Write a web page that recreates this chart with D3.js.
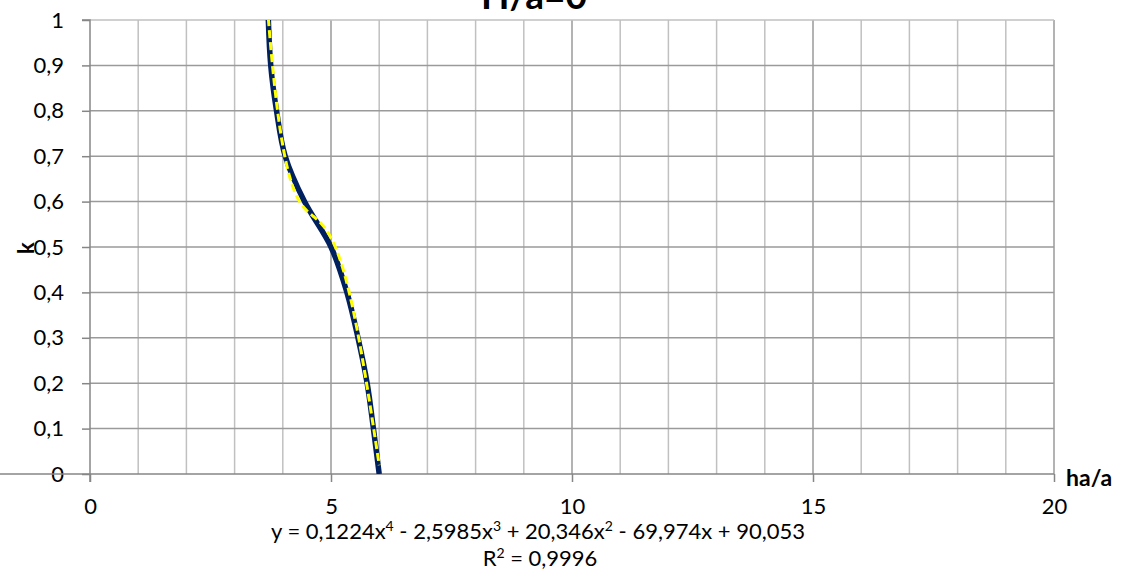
<!DOCTYPE html>
<html>
<head>
<meta charset="utf-8">
<script src="https://cdn.jsdelivr.net/npm/d3@7"></script>
<style>
  html, body { margin: 0; padding: 0; background: #fff; }
  svg { display: block; font-family: Lato, "Open Sans", sans-serif; }
</style>
</head>
<body>
<div id="chart"></div>
<script>
// k against ha/a, H/a=0, with 4th order polynomial trendline

const haA = [6.0, 5.88, 5.75, 5.56, 5.33, 5.0, 4.45, 4.05, 3.87, 3.75, 3.7];
const kVals = [0, 0.1, 0.2, 0.3, 0.4, 0.5, 0.6, 0.7, 0.8, 0.9, 1.0];

// trendline coefficients, constant term first
const trendCoef = [90.053, -69.974, 20.346, -2.5985, 0.1224];

const xTicks = [0, 5, 10, 15, 20];
const xMinor = d3.range(0, 21, 1);
const yTicks = [0, 0.1, 0.2, 0.3, 0.4, 0.5, 0.6, 0.7, 0.8, 0.9, 1];

const W = 1126, H = 579;
const plot = { left: 90, right: 1054, top: 20, bottom: 474 };

const locale = d3.formatLocale({ decimal: ",", thousands: " ", grouping: [3], currency: ["", ""] });
const fmt = locale.format("~g");

const svg = d3.select("#chart").append("svg")
  .attr("width", W)
  .attr("height", H);

const x = d3.scaleLinear().domain([0, 20]).range([plot.left, plot.right]);
const y = d3.scaleLinear().domain([0, 1]).range([plot.bottom, plot.top]);

// grid
const grid = svg.append("g");
grid.selectAll(".vminor")
  .data(xMinor.filter(d => d % 5 !== 0))
  .enter().append("line")
  .attr("x1", d => x(d)).attr("x2", d => x(d))
  .attr("y1", plot.top).attr("y2", plot.bottom)
  .attr("stroke", "#c0c0c0").attr("stroke-width", 1.5);

grid.selectAll(".vmajor")
  .data(xTicks.filter(d => d > 0))
  .enter().append("line")
  .attr("x1", d => x(d)).attr("x2", d => x(d))
  .attr("y1", plot.top).attr("y2", plot.bottom)
  .attr("stroke", "#9a9a9a").attr("stroke-width", 1.5);

grid.selectAll(".hline")
  .data(yTicks.filter(d => d > 0))
  .enter().append("line")
  .attr("x1", plot.left).attr("x2", plot.right)
  .attr("y1", d => y(d)).attr("y2", d => y(d))
  .attr("stroke", d => d === 1 ? "#c0c0c0" : "#9a9a9a").attr("stroke-width", 1.5);

// axes
const yAxis = svg.append("g")
  .attr("transform", `translate(${plot.left},0)`)
  .call(d3.axisLeft(y).tickValues(yTicks).tickFormat(fmt).tickSize(8).tickPadding(18));

const xAxis = svg.append("g")
  .attr("transform", `translate(0,${plot.bottom})`)
  .call(d3.axisBottom(x).tickValues(xTicks).tickFormat(fmt).tickSize(8).tickPadding(16));

[yAxis, xAxis].forEach(a => {
  a.attr("font-family", null);
  a.select(".domain").attr("stroke", "#868686").attr("stroke-width", 1.5);
  a.selectAll(".tick line").attr("stroke", "#868686").attr("stroke-width", 1.5);
  a.selectAll(".tick text").attr("fill", "#000").style("font-size", "22px");
});
yAxis.select(".domain").attr("d", `M-8,${plot.top}H0V${plot.bottom + 8}`);
xAxis.select(".domain").attr("d", `M0,0H${plot.right}`);

// clip to plot area
svg.append("clipPath").attr("id", "plotclip")
  .append("rect")
  .attr("x", plot.left).attr("y", plot.top)
  .attr("width", plot.right - plot.left).attr("height", plot.bottom - plot.top);

const series = haA.map((v, i) => ({ x: v, k: kVals[i] }));

const line = d3.line()
  .x(d => x(d.x))
  .y(d => y(d.k))
  .curve(d3.curveCatmullRom.alpha(0.5));

svg.append("path")
  .datum(series)
  .attr("clip-path", "url(#plotclip)")
  .attr("fill", "none")
  .attr("stroke", "#002060")
  .attr("stroke-width", 5.5)
  .attr("d", line);

// polynomial trendline over the data range
const poly = t => trendCoef.reduce((s, c, i) => s + c * Math.pow(t, i), 0);
const [x0, x1] = d3.extent(haA);
const trend = d3.range(0, 201).map(i => {
  const t = x0 + (x1 - x0) * i / 200;
  return { x: t, k: poly(t) };
});

svg.append("path")
  .datum(trend)
  .attr("clip-path", "url(#plotclip)")
  .attr("fill", "none")
  .attr("stroke", "#ffff00")
  .attr("stroke-width", 3)
  .attr("stroke-dasharray", "8,4")
  .attr("d", d3.line().x(d => x(d.x)).y(d => y(d.k)));

// title and axis titles
svg.append("text")
  .attr("x", 534).attr("y", 9)
  .attr("text-anchor", "middle")
  .style("font-size", "37px").style("font-weight", "bold")
  .text("H/a=0");

svg.append("text")
  .attr("x", 1066).attr("y", 486)
  .style("font-size", "23px").style("font-weight", "bold")
  .text("ha/a");

svg.append("text")
  .attr("transform", "translate(34,248) rotate(-90)")
  .attr("text-anchor", "middle")
  .style("font-size", "22px").style("font-weight", "bold")
  .text("k");

// trendline label
const eq = svg.append("text")
  .attr("x", 538).attr("y", 539)
  .attr("text-anchor", "middle")
  .style("font-size", "22px");
eq.append("tspan").text("y = 0,1224x");
eq.append("tspan").attr("dy", -8).style("font-size", "14px").text("4");
eq.append("tspan").attr("dy", 8).text(" - 2,5985x");
eq.append("tspan").attr("dy", -8).style("font-size", "14px").text("3");
eq.append("tspan").attr("dy", 8).text(" + 20,346x");
eq.append("tspan").attr("dy", -8).style("font-size", "14px").text("2");
eq.append("tspan").attr("dy", 8).text(" - 69,974x + 90,053");

const r2 = svg.append("text")
  .attr("x", 540).attr("y", 566)
  .attr("text-anchor", "middle")
  .style("font-size", "22px");
r2.append("tspan").text("R");
r2.append("tspan").attr("dy", -8).style("font-size", "14px").text("2");
r2.append("tspan").attr("dy", 8).text(" = 0,9996");
</script>
</body>
</html>
